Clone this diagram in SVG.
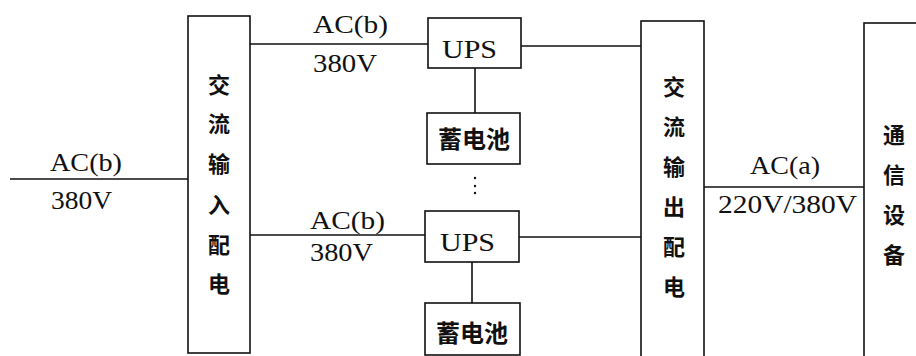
<svg xmlns="http://www.w3.org/2000/svg" width="916" height="356" viewBox="0 0 916 356">
<style>
.box{fill:#fff;stroke:#111;stroke-width:1.6}
.ln{stroke:#111;stroke-width:1.6;fill:none}
.lat{font-family:"Liberation Serif","Times New Roman",serif;font-size:26px;fill:#111}
.cjk{font-family:"Noto Sans CJK SC","Noto Sans",sans-serif;font-size:22px;fill:#111;text-anchor:middle;font-weight:700}
.bat{font-family:"Noto Sans CJK SC","Noto Sans",sans-serif;font-size:24px;fill:#111;text-anchor:middle;font-weight:700}
</style>
<rect width="916" height="356" fill="#fff"/>
<g id="connectors">
<line class="ln" x1="10" y1="179" x2="188" y2="179"/>
<line class="ln" x1="250" y1="44" x2="428" y2="44"/>
<line class="ln" x1="250" y1="235" x2="425" y2="235"/>
<line class="ln" x1="475" y1="68" x2="475" y2="113"/>
<line class="ln" x1="472" y1="262" x2="472" y2="303"/>
<line class="ln" x1="521" y1="46" x2="641" y2="46"/>
<line class="ln" x1="519" y1="237" x2="641" y2="237"/>
<line class="ln" x1="704" y1="187" x2="864" y2="187"/>
<circle cx="475" cy="178" r="1.2" fill="#111"/>
<circle cx="475" cy="186" r="1.2" fill="#111"/>
<circle cx="475" cy="193" r="1.2" fill="#111"/>
<text class="lat" x="50" y="171" textLength="72" lengthAdjust="spacingAndGlyphs">AC(b)</text>
<text class="lat" x="51" y="209" textLength="61" lengthAdjust="spacingAndGlyphs">380V</text>
<text class="lat" x="313" y="33" textLength="75" lengthAdjust="spacingAndGlyphs">AC(b)</text>
<text class="lat" x="313" y="72" textLength="64" lengthAdjust="spacingAndGlyphs">380V</text>
<text class="lat" x="310" y="229" textLength="75" lengthAdjust="spacingAndGlyphs">AC(b)</text>
<text class="lat" x="310" y="261" textLength="63" lengthAdjust="spacingAndGlyphs">380V</text>
<text class="lat" x="750" y="174" textLength="70" lengthAdjust="spacingAndGlyphs">AC(a)</text>
<text class="lat" x="718" y="213" textLength="139" lengthAdjust="spacingAndGlyphs">220V/380V</text>
</g>
<g id="input">
<rect class="box" x="188" y="16" width="62" height="337"/>
<text class="cjk" x="219" y="93">交</text>
<text class="cjk" x="219" y="132">流</text>
<text class="cjk" x="219" y="172">输</text>
<text class="cjk" x="219" y="213">入</text>
<text class="cjk" x="219" y="253">配</text>
<text class="cjk" x="219" y="292">电</text>
</g>
<g id="ups1">
<rect class="box" x="428" y="18" width="93" height="50"/>
<text class="lat" x="442" y="58" textLength="55" lengthAdjust="spacingAndGlyphs">UPS</text>
</g>
<g id="bat1">
<rect class="box" x="427" y="113" width="93" height="51"/>
<text class="bat" x="474" y="148">蓄电池</text>
</g>
<g id="ups2">
<rect class="box" x="425" y="211" width="94" height="51"/>
<text class="lat" x="440" y="251" textLength="55" lengthAdjust="spacingAndGlyphs">UPS</text>
</g>
<g id="bat2">
<rect class="box" x="425" y="303" width="95" height="52"/>
<text class="bat" x="472" y="342">蓄电池</text>
</g>
<g id="output">
<rect class="box" x="641" y="21" width="63" height="345"/>
<text class="cjk" x="674" y="95">交</text>
<text class="cjk" x="674" y="135">流</text>
<text class="cjk" x="674" y="175">输</text>
<text class="cjk" x="674" y="215">出</text>
<text class="cjk" x="674" y="255">配</text>
<text class="cjk" x="674" y="295">电</text>
</g>
<g id="equipment">
<rect class="box" x="864" y="23" width="80" height="345"/>
<text class="cjk" x="894" y="143">通</text>
<text class="cjk" x="894" y="183">信</text>
<text class="cjk" x="894" y="223">设</text>
<text class="cjk" x="894" y="263">备</text>
</g>
</svg>
